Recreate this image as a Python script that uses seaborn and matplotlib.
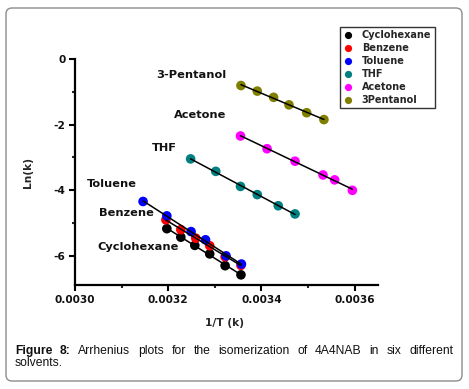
import numpy as np
import pandas as pd
import matplotlib
matplotlib.use("Agg")
import matplotlib.pyplot as plt
from matplotlib.patches import FancyBboxPatch
import seaborn as sns

# ---- data ----
solvents = ["Cyclohexane", "Benzene", "Toluene", "THF", "Acetone", "3Pentanol"]
label_names = ["Cyclohexane", "Benzene", "Toluene", "THF", "Acetone", "3-Pentanol"]
colors = ["#000000", "#ff0000", "#0000ff", "#008080", "#ff00ff", "#808000"]

cyclohexane_x = [0.003197, 0.003227, 0.003257, 0.003289, 0.003322, 0.003356]
cyclohexane_y = [-5.18, -5.44, -5.69, -5.95, -6.31, -6.59]
benzene_x = [0.003195, 0.003227, 0.003259, 0.003289, 0.003322, 0.003356]
benzene_y = [-4.91, -5.21, -5.47, -5.70, -6.04, -6.30]
toluene_x = [0.003146, 0.003197, 0.003249, 0.003280, 0.003324, 0.003357]
toluene_y = [-4.35, -4.79, -5.27, -5.52, -6.01, -6.26]
thf_x = [0.003248, 0.003302, 0.003355, 0.003391, 0.003436, 0.003472]
thf_y = [-3.05, -3.43, -3.89, -4.14, -4.48, -4.73]
acetone_x = [0.003355, 0.003412, 0.003472, 0.003532, 0.003557, 0.003595]
acetone_y = [-2.35, -2.74, -3.12, -3.54, -3.69, -4.01]
pentanol_x = [0.003356, 0.003391, 0.003426, 0.003459, 0.003497, 0.003534]
pentanol_y = [-0.81, -0.98, -1.17, -1.40, -1.64, -1.85]

xs = [cyclohexane_x, benzene_x, toluene_x, thf_x, acetone_x, pentanol_x]
ys = [cyclohexane_y, benzene_y, toluene_y, thf_y, acetone_y, pentanol_y]

x_ticks = [0.0030, 0.0032, 0.0034, 0.0036]
x_tick_labels = ["0.0030", "0.0032", "0.0034", "0.0036"]
y_ticks = [0, -2, -4, -6]
y_tick_labels = ["0", "-2", "-4", "-6"]

# label offsets (pixels) relative to first point of each series
label_offsets = [(12, -18), (-12, 7), (-6, 17), (-14, 11), (-14, 21), (-15, 11)]

df = pd.concat(
    [pd.DataFrame({"x": x, "y": y, "solvent": s}) for x, y, s in zip(xs, ys, solvents)],
    ignore_index=True,
)

sns.set_style("ticks")
plt.rcParams["font.family"] = ["DejaVu Sans"]
plt.rcParams["font.weight"] = "bold"

W, H = 469, 389
fig = plt.figure(figsize=(W / 100, H / 100), dpi=100)
fig.patch.set_facecolor("white")
ax = fig.add_axes([75 / W, 1 - 285 / H, (378 - 75) / W, (285 - 59) / H])

sns.scatterplot(data=df, x="x", y="y", hue="solvent", palette=colors,
                hue_order=solvents, s=48, linewidth=0, ax=ax, zorder=2)
for x, y in zip(xs, ys):
    sns.regplot(x=np.array(x), y=np.array(y), scatter=False, ci=None, ax=ax,
                truncate=True, line_kws={"color": "black", "lw": 1.1, "zorder": 3})

for x, y, name, off in zip(xs, ys, label_names, label_offsets):
    ax.annotate(name, xy=(x[0], y[0]), xytext=off, textcoords="offset pixels",
                ha="right", va="center", fontsize=8.2, fontweight="bold", color="#111111")

ax.set_xlim(0.0030, 0.00365)
ax.set_ylim(-6.9, 0)
ax.set_xticks(x_ticks)
ax.set_xticklabels(x_tick_labels)
ax.set_yticks(y_ticks)
ax.set_yticklabels(y_tick_labels)
ax.set_xticks([0.0031, 0.0033, 0.0035], minor=True)
ax.set_yticks([-1, -3, -5], minor=True)
ax.tick_params(axis="both", which="major", length=4, width=1.5, labelsize=7.6,
               direction="out", pad=3, color="black", labelcolor="#111111")
ax.tick_params(axis="both", which="minor", length=2.5, width=1.5, direction="out")
for lab in ax.get_xticklabels() + ax.get_yticklabels():
    lab.set_fontweight("bold")
for side in ["top", "right"]:
    ax.spines[side].set_visible(False)
for side in ["left", "bottom"]:
    ax.spines[side].set_linewidth(1.6)
    ax.spines[side].set_color("black")
ax.set_xlabel("1/T (k)", fontsize=7.7, fontweight="bold")
ax.set_ylabel("Ln(k)", fontsize=7.7, fontweight="bold")
ax.xaxis.set_label_coords(0.495, -0.146)
ax.yaxis.set_label_coords(-0.139, 0.5)

handles, labels = ax.get_legend_handles_labels()
leg = ax.legend(handles, labels, loc="upper left",
                bbox_to_anchor=(340 / W, 1 - 27 / H), bbox_transform=fig.transFigure,
                fontsize=7.0, frameon=True, fancybox=False, edgecolor="black",
                labelspacing=0.3, borderpad=0.35, handletextpad=0.9,
                handlelength=1.0, markerscale=0.75, borderaxespad=0)
leg.get_frame().set_linewidth(1.0)
for t in leg.get_texts():
    t.set_fontweight("bold")

# outer rounded frame
frame = FancyBboxPatch((6, H - 381), 456, 373, boxstyle="round,pad=0,rounding_size=6",
                       transform=None, facecolor="none", edgecolor="#8c8c8c", lw=1.0)
fig.patches.append(frame)

# caption (justified first line)
renderer = fig.canvas.get_renderer()
words = [("Figure", "bold"), ("8:", "bold"), ("Arrhenius", "normal"), ("plots", "normal"),
         ("for", "normal"), ("the", "normal"), ("isomerization", "normal"), ("of", "normal"),
         ("4A4NAB", "normal"), ("in", "normal"), ("six", "normal"), ("different", "normal")]
cap_font = ["Liberation Sans", "DejaVu Sans"]
texts = []
for w, wt in words:
    t = fig.text(0, (H - 354) / H, w, fontsize=8.7, fontweight=wt, family=cap_font,
                 color="#111111", va="baseline", ha="left")
    texts.append(t)
widths = [t.get_window_extent(renderer).width for t in texts]
left, right = 15, 453
gap = (right - left - sum(widths)) / (len(words) - 1)
xpos = left
for t, wd in zip(texts, widths):
    t.set_x(xpos / W)
    xpos += wd + gap
fig.text(15 / W, (H - 366) / H, "solvents.", fontsize=8.7, fontweight="normal",
         family=cap_font, color="#111111", va="baseline", ha="left")

fig.savefig("out.png", dpi=100)
